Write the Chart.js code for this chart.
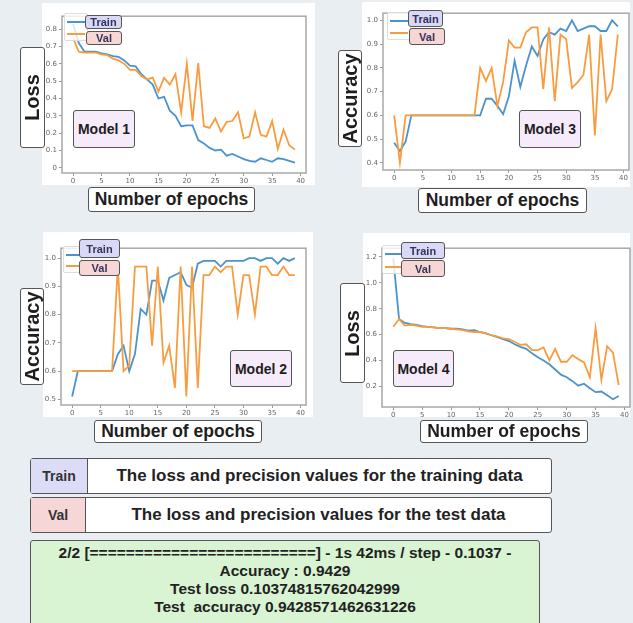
<!DOCTYPE html>
<html>
<head>
<meta charset="utf-8">
<script src="https://cdn.jsdelivr.net/npm/chart.js@4.4.1/dist/chart.umd.min.js"></script>
<style>
  body { margin: 0; background: #e8eef1; font-family: "Liberation Sans", Arial, sans-serif; }
  #stage { position: relative; width: 633px; height: 623px; overflow: hidden; }
  .panel { position: absolute; background: #fff; }
  .box { position: absolute; box-sizing: border-box; border: 1.5px solid #555; border-radius: 3px;
         background: #fff; font-weight: bold; color: #1e1e1e; display: flex; align-items: center; justify-content: center; }
  .ytitle span { transform: rotate(-90deg); white-space: nowrap; font-size: 20px; }
  .xtitle { font-size: 17.5px; }
  .model { background: #f6ebfb; font-size: 14px; }
  .legTrain { background: #d9d9f7; font-size: 11px; color: #34345a; }
  .legVal { background: #f7d6d6; font-size: 11px; color: #34345a; }
  .legbg { position: absolute; box-sizing: border-box; background: rgba(255,255,255,0.8); border: 1px solid #ddd; border-radius: 2px; }
  .mark { position: absolute; height: 2px; }
  canvas { position: absolute; }
  .row { position: absolute; box-sizing: border-box; border: 1.5px solid #555; border-radius: 3px; background: #fff; display: flex; }
  .row .cell { box-sizing: border-box; border-right: 1.5px solid #555; display: flex; align-items: center; justify-content: center;
               font-weight: bold; font-size: 14px; color: #333; }
  .row .desc { flex: 1; display: flex; align-items: center; justify-content: center; font-weight: bold; font-size: 17px; color: #222; }
  #green { position: absolute; left: 30px; top: 540px; width: 510px; height: 95px; box-sizing: border-box;
           border: 1.5px solid #555; border-radius: 3px; background: #d9f4d2; text-align: center;
           font-weight: bold; font-size: 15.5px; color: #222; line-height: 18px; padding-top: 3px; }
</style>
</head>
<body>
<div id="stage"></div>
<script>
// epochs (x values)
const epochs = [0,1,2,3,4,5,6,7,8,9,10,11,12,13,14,15,16,17,18,19,20,21,22,23,24,25,26,27,28,29,30,31,32,33,34,35,36,37,38,39];
const xTicks = [0, 5, 10, 15, 20, 25, 30, 35, 40];

// Model 1 (loss)
const m1Train = [0.83,0.72,0.67,0.67,0.67,0.66,0.655,0.645,0.64,0.62,0.59,0.585,0.54,0.51,0.48,0.40,0.41,0.33,0.30,0.24,0.245,0.245,0.16,0.14,0.115,0.10,0.105,0.07,0.08,0.065,0.05,0.04,0.035,0.055,0.045,0.035,0.055,0.05,0.04,0.03];
const m1Val = [0.75,0.67,0.665,0.665,0.665,0.655,0.65,0.63,0.62,0.60,0.565,0.565,0.53,0.51,0.52,0.44,0.52,0.48,0.54,0.32,0.60,0.27,0.605,0.24,0.23,0.285,0.21,0.265,0.27,0.32,0.17,0.18,0.32,0.19,0.18,0.27,0.11,0.22,0.13,0.105];
const m1YTicks = [0, 0.1, 0.2, 0.3, 0.4, 0.5, 0.6, 0.7, 0.8];

// Model 2 (accuracy)
const m2Train = [0.51,0.60,0.60,0.60,0.60,0.60,0.60,0.60,0.66,0.69,0.60,0.66,0.82,0.80,0.92,0.92,0.85,0.93,0.94,0.95,0.905,0.895,0.98,0.99,0.99,0.99,0.97,0.99,0.99,0.99,0.99,1.0,1.0,0.99,1.0,1.0,0.98,1.0,0.99,1.0];
const m2Val = [0.60,0.60,0.60,0.60,0.60,0.60,0.60,0.60,0.97,0.60,0.62,0.97,0.97,0.97,0.69,0.97,0.63,0.69,0.54,0.97,0.51,0.97,0.54,0.94,0.94,0.97,0.95,0.97,0.97,0.80,0.94,0.94,0.80,0.97,0.97,0.94,0.94,0.97,0.94,0.94];
const m2YTicks = [0.5, 0.6, 0.7, 0.8, 0.9, 1.0];

// Model 3 (accuracy)
const m3Train = [0.485,0.45,0.49,0.60,0.60,0.60,0.60,0.60,0.60,0.60,0.60,0.60,0.60,0.60,0.60,0.60,0.67,0.67,0.64,0.605,0.68,0.83,0.72,0.81,0.89,0.85,0.92,0.95,0.94,0.965,0.955,1.0,0.955,0.965,0.975,0.975,0.955,0.955,1.0,0.975];
const m3Val = [0.60,0.40,0.60,0.60,0.60,0.60,0.60,0.60,0.60,0.60,0.60,0.60,0.60,0.60,0.60,0.80,0.745,0.80,0.64,0.74,0.915,0.885,0.885,0.95,0.97,0.97,0.71,0.97,0.66,0.94,0.92,0.715,0.74,0.77,0.94,0.515,0.94,0.66,0.71,0.94];
const m3YTicks = [0.4, 0.5, 0.6, 0.7, 0.8, 0.9, 1.0];

// Model 4 (loss)
const m4Train = [1.19,0.72,0.69,0.68,0.675,0.665,0.66,0.655,0.65,0.65,0.645,0.645,0.64,0.63,0.635,0.62,0.61,0.595,0.58,0.565,0.55,0.525,0.505,0.49,0.455,0.425,0.40,0.37,0.33,0.29,0.27,0.24,0.205,0.22,0.185,0.155,0.16,0.13,0.10,0.125];
const m4Val = [0.66,0.72,0.67,0.675,0.67,0.66,0.66,0.655,0.65,0.65,0.645,0.64,0.635,0.625,0.62,0.62,0.61,0.595,0.585,0.57,0.565,0.545,0.52,0.525,0.48,0.48,0.50,0.40,0.49,0.39,0.39,0.44,0.41,0.385,0.27,0.65,0.25,0.51,0.46,0.21];
const m4YTicks = [0.2, 0.4, 0.6, 0.8, 1.0, 1.2];

const trainColor = "#4a93cc";
const valColor = "#f89c40";

const stage = document.getElementById("stage");

function addDiv(cls, l, t, w, h, html) {
    let d = document.createElement("div");
    d.className = cls;
    d.style.left = l + "px";
    d.style.top = t + "px";
    d.style.width = w + "px";
    d.style.height = h + "px";
    if (html) d.innerHTML = html;
    stage.appendChild(d);
    return d;
}

// frame around the plot area
const framePlugin = {
    id: "frame",
    afterDraw(chart) {
        let a = chart.chartArea, ctx = chart.ctx;
        ctx.save();
        ctx.strokeStyle = "#a8a8a8";
        ctx.lineWidth = 1.5;
        ctx.strokeRect(a.left, a.top, a.right - a.left, a.bottom - a.top);
        ctx.restore();
    }
};

function makeChart(p) {
    // white panel behind chart
    addDiv("panel", p.panel[0], p.panel[1], p.panel[2] - p.panel[0], p.panel[3] - p.panel[1]);

    let [fl, ft, fr, fb] = p.frame;
    let canvas = document.createElement("canvas");
    let left = fl - 24, top = ft - 3;
    canvas.width = fr - fl + 27;
    canvas.height = fb - ft + 17;
    canvas.style.left = left + "px";
    canvas.style.top = top + "px";
    stage.appendChild(canvas);

    new Chart(canvas.getContext("2d"), {
        type: "line",
        data: {
            datasets: [
                { label: "Val", data: epochs.map((e, i) => ({ x: e, y: p.val[i] })), borderColor: valColor, borderWidth: 1.8 },
                { label: "Train", data: epochs.map((e, i) => ({ x: e, y: p.train[i] })), borderColor: trainColor, borderWidth: 1.8 }
            ]
        },
        options: {
            responsive: false,
            animation: false,
            events: [],
            elements: { point: { radius: 0 }, line: { tension: 0 } },
            layout: { padding: { top: 3, right: 3, left: 0, bottom: 0 } },
            plugins: { legend: { display: false }, tooltip: { enabled: false } },
            scales: {
                x: {
                    type: "linear", min: -1.95, max: 40.95,
                    afterBuildTicks: s => { s.ticks = xTicks.map(v => ({ value: v })); },
                    afterFit: s => { s.height = 14; },
                    grid: { drawOnChartArea: false, tickLength: 3, color: "#999" },
                    border: { display: false },
                    ticks: { font: { size: 7, family: "DejaVu Sans" }, color: "#666", padding: 1, maxRotation: 0 }
                },
                y: {
                    min: p.yMin, max: p.yMax,
                    afterBuildTicks: s => { s.ticks = p.yTicks.map(v => ({ value: v })); },
                    afterFit: s => { s.width = 24; },
                    grid: { drawOnChartArea: false, tickLength: 3, color: "#999" },
                    border: { display: false },
                    ticks: {
                        font: { size: 7, family: "DejaVu Sans" }, color: "#666", padding: 2,
                        callback: v => v === 0 ? "0" : v.toFixed(1)
                    }
                }
            }
        },
        plugins: [framePlugin]
    });

    // legend: translucent frame, line marks + label boxes
    let lg = p.legend;
    addDiv("legbg", lg.mx - 3, lg.ty - 8, lg.train[0] - lg.mx + 6, lg.vy - lg.ty + 16);
    addDiv("mark", lg.mx, lg.ty, lg.mw, 2).style.background = trainColor;
    addDiv("mark", lg.mx, lg.vy, lg.mw, 2).style.background = valColor;
    addDiv("box legTrain", lg.train[0], lg.train[1], lg.train[2], lg.train[3], "Train");
    addDiv("box legVal", lg.val[0], lg.val[1], lg.val[2], lg.val[3], "Val");

    addDiv("box ytitle", p.ytitle[0], p.ytitle[1], p.ytitle[2], p.ytitle[3], "<span>" + p.yLabel + "</span>");
    addDiv("box xtitle", p.xtitle[0], p.xtitle[1], p.xtitle[2], p.xtitle[3], "Number of epochs");
    addDiv("box model", p.model[0], p.model[1], p.model[2], p.model[3], p.name);
}

makeChart({
    name: "Model 1", yLabel: "Loss", train: m1Train, val: m1Val, yTicks: m1YTicks, yMin: -0.03, yMax: 0.875,
    panel: [42, 3, 315, 185], frame: [62, 13, 306, 173],
    legend: { mx: 67, mw: 18, ty: 21, vy: 33, train: [85, 15, 37, 14], val: [86, 31, 36, 14] },
    ytitle: [20, 47, 25, 101], xtitle: [88, 187, 167, 25], model: [73, 110, 62, 38]
});
makeChart({
    name: "Model 3", yLabel: "Accuracy", train: m3Train, val: m3Val, yTicks: m3YTicks, yMin: 0.37, yMax: 1.03,
    panel: [362, 2, 630, 187], frame: [383, 10, 629, 170],
    legend: { mx: 390, mw: 18, ty: 20, vy: 32, train: [408, 10, 35, 17], val: [409, 28, 36, 17] },
    ytitle: [338, 50, 24, 97], xtitle: [418, 188, 169, 25], model: [519, 110, 62, 38]
});
makeChart({
    name: "Model 2", yLabel: "Accuracy", train: m2Train, val: m2Val, yTicks: m2YTicks, yMin: 0.48, yMax: 1.035,
    panel: [43, 232, 313, 417], frame: [61, 245, 306, 405],
    legend: { mx: 66, mw: 14, ty: 254, vy: 265, train: [79, 239, 41, 19], val: [79, 260, 41, 16] },
    ytitle: [20, 288, 24, 97], xtitle: [94, 420, 168, 23], model: [230, 350, 62, 37]
});
makeChart({
    name: "Model 4", yLabel: "Loss", train: m4Train, val: m4Val, yTicks: m4YTicks, yMin: 0.04, yMax: 1.268,
    panel: [363, 233, 630, 417], frame: [382, 245, 630, 407],
    legend: { mx: 385, mw: 17, ty: 253, vy: 266, train: [401, 242, 44, 17], val: [401, 260, 44, 17] },
    ytitle: [340, 283, 25, 100], xtitle: [420, 420, 168, 23], model: [393, 350, 61, 37]
});

// explanation rows
function addRow(top, label, cellW, cellColor, text) {
    let r = addDiv("row", 30, top, 522, 36);
    r.innerHTML = '<div class="cell" style="width:' + cellW + 'px;background:' + cellColor + '">' + label +
        '</div><div class="desc">' + text + '</div>';
}
addRow(458, "Train", 57, "#dcdcf6", "The loss and precision values for the training data");
addRow(497, "Val", 55, "#f6d6d6", "The loss and precision values for the test data");

const summaryLines = [
    "2/2 [=========================] - 1s 42ms / step - 0.1037 -",
    "Accuracy : 0.9429",
    "Test loss 0.10374815762042999",
    "Test&nbsp; accuracy 0.9428571462631226"
];
let g = document.createElement("div");
g.id = "green";
g.innerHTML = summaryLines.join("<br>");
stage.appendChild(g);
</script>
</body>
</html>
